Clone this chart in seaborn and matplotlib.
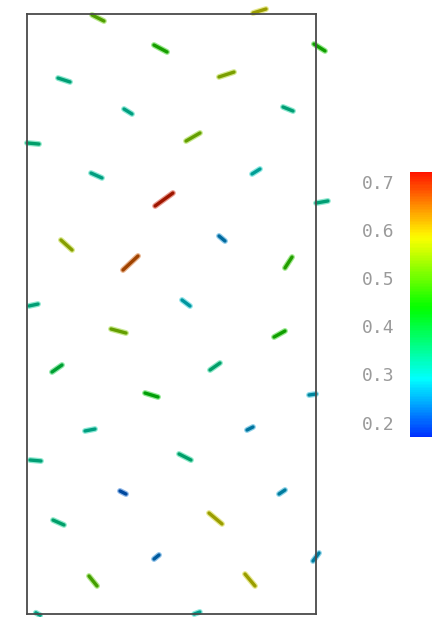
import numpy as np
import matplotlib
matplotlib.use("Agg")
import matplotlib.pyplot as plt
from matplotlib.collections import LineCollection
from matplotlib.colors import Normalize, ListedColormap
import seaborn as sns

# stick glyphs: centre (x, y) inside the box, orientation (deg), length, scalar value
stick_x = [71, 133.5, 232.5, 292.5, 37, 199.5, 101, 261, 166, 6,
           69.5, 229, 137, 295, 39.5, 103.5, 195, 261.5, 6.5, 159,
           91.5, 252.5, 30, 188, 124.5, 285.5, 63, 223, 8.5, 158,
           96, 255, 31.5, 188.5, 129.5, 289, 66, 223, 11, 170]
stick_y = [596, 565.5, 603, 566.5, 534, 539.5, 502.5, 505, 477, 470.5,
           438.5, 442.5, 414.5, 412, 369, 351, 375.5, 351.5, 309, 311,
           283, 280, 245.5, 247.5, 219, 219.5, 184, 185.5, 153.5, 157,
           121.5, 122, 91.5, 95.5, 57, 57, 33, 34, 0, 1]
stick_angle = [-27, -28, 17, -32, -18, 18, -32, -22, 30, -5,
               -24, 32, 36, 10, -42, 43, -40, 57, 12, -37,
               -15, 29, 35, 35, -17, 8, 11, 27, -5, -27,
               -27, 34, -24, -40, 39, 53, -51, -50, -30, 20]
stick_len = [13.4, 14.8, 13.6, 13, 12.6, 15.8, 9.4, 10.8, 16.1, 12,
             12, 9.4, 22, 12, 15, 20.5, 7.8, 13, 9.2, 10,
             15.5, 12.5, 12.2, 12.2, 13.6, 7, 10.2, 6.7, 11, 13.4,
             6.7, 7.2, 12, 17, 6.4, 10, 12.8, 15.6, 5, 6]
stick_value = [0.51, 0.46, 0.58, 0.45, 0.33, 0.55, 0.32, 0.33, 0.53, 0.34,
               0.32, 0.30, 0.71, 0.33, 0.56, 0.67, 0.24, 0.47, 0.33, 0.28,
               0.53, 0.45, 0.39, 0.34, 0.43, 0.27, 0.32, 0.25, 0.33, 0.34,
               0.21, 0.26, 0.34, 0.58, 0.23, 0.26, 0.50, 0.58, 0.32, 0.31]

cbar_ticks = [0.2, 0.3, 0.4, 0.5, 0.6, 0.7]
vmin, vmax = 0.17, 0.72

sns.set_theme(style="white")
# blue -> cyan -> green -> yellow -> red hue ramp
cmap = ListedColormap(matplotlib.colormaps["hsv"](np.linspace(0.645, 0.015, 256)))
norm = Normalize(vmin=vmin, vmax=vmax)

fig = plt.figure(figsize=(4.37, 6.17), dpi=100)
ax = fig.add_axes([27 / 437, 3 / 617, 289 / 437, 600 / 617])

x = np.array(stick_x)
y = np.array(stick_y)
a = np.radians(stick_angle)
h = np.array(stick_len) / 2
dx, dy = h * np.cos(a), h * np.sin(a)
segs = np.stack([np.column_stack([x - dx, y - dy]),
                 np.column_stack([x + dx, y + dy])], axis=1)

base = cmap(norm(np.array(stick_value)))
outer = base.copy()
outer[:, :3] = outer[:, :3] * 0.8
outer[:, 3] = 0.45
inner = base.copy()
inner[:, :3] *= 0.62  # shaded core of the glyphs
ax.add_collection(LineCollection(segs, colors=outer, linewidths=4.2,
                                 capstyle="round", clip_on=False))
ax.add_collection(LineCollection(segs, colors=inner, linewidths=2.4,
                                 capstyle="round", clip_on=False))

ax.set_xlim(0, 289)
ax.set_ylim(0, 600)
ax.set_xticks([])
ax.set_yticks([])
for s in ax.spines.values():
    s.set_color("#4a4a4a")
    s.set_linewidth(1.3)

# colour bar
cax = fig.add_axes([410 / 437, (617 - 437) / 617, 22 / 437, 265 / 617])
sm = plt.cm.ScalarMappable(norm=norm, cmap=cmap)
cb = fig.colorbar(sm, cax=cax, ticks=cbar_ticks)
cb.outline.set_visible(False)
cax.yaxis.set_ticks_position("left")
cax.yaxis.set_label_position("left")
cax.set_yticklabels([f"{t:.1f}" for t in cbar_ticks], family="DejaVu Sans Mono",
                    color="#9a9a9a", fontsize=13)
cax.tick_params(axis="y", which="major", length=0, pad=11)
cax.set_yticks(np.arange(0.18, 0.72, 0.01), minor=True)
cax.tick_params(axis="y", which="minor", direction="in", length=1.5, width=0.6, color="#777777")

fig.savefig("out.png", dpi=100)
